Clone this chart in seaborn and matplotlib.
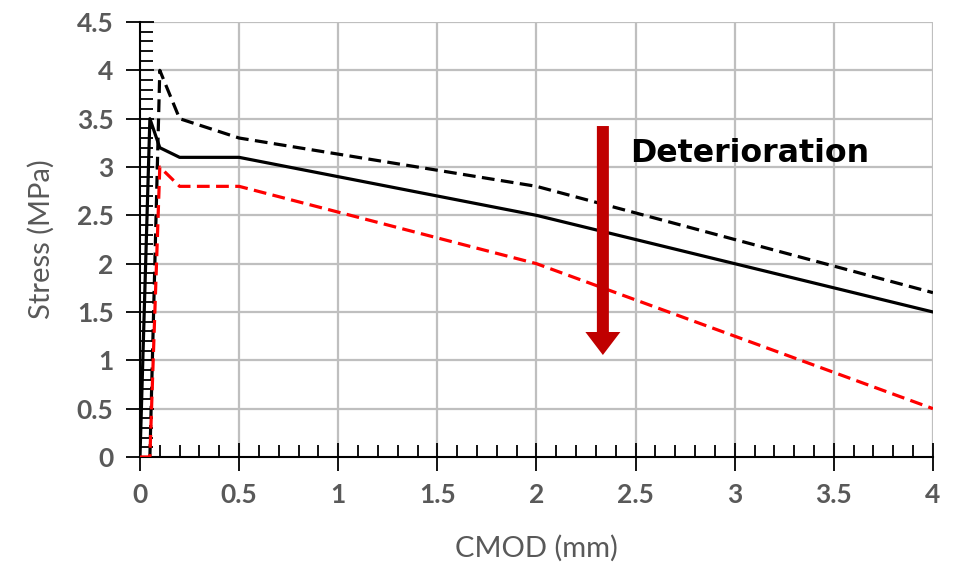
import matplotlib
matplotlib.use("Agg")
import matplotlib.pyplot as plt
from matplotlib.ticker import MultipleLocator
import seaborn as sns
import pandas as pd

# Stress-CMOD softening curves
cmod_ref = [0.0, 0.05, 0.1, 0.2, 0.5, 2.0, 4.0]
stress_ref = [0.0, 3.5, 3.2, 3.1, 3.1, 2.5, 1.5]

cmod_high = [0.05, 0.1, 0.2, 0.5, 2.0, 4.0]
stress_high = [0.0, 4.0, 3.5, 3.3, 2.8, 1.7]

cmod_low = [0.0, 0.05, 0.1, 0.2, 0.5, 2.0, 4.0]
stress_low = [0.0, 0.0, 3.0, 2.8, 2.8, 2.0, 0.5]

x_ticks = [0, 0.5, 1, 1.5, 2, 2.5, 3, 3.5, 4]
x_tick_labels = ["0", "0.5", "1", "1.5", "2", "2.5", "3", "3.5", "4"]
y_ticks = [0, 0.5, 1, 1.5, 2, 2.5, 3, 3.5, 4, 4.5]
y_tick_labels = ["0", "0.5", "1", "1.5", "2", "2.5", "3", "3.5", "4", "4.5"]

sns.set_theme(style="white")
plt.rcParams["font.family"] = ["Lato", "DejaVu Sans"]

fig = plt.figure(figsize=(9.64, 5.65), dpi=100)
ax = fig.add_axes([0.1452, 0.1912, 0.8226, 0.7698])

grid_col = "#bfbfbf"
for v in x_ticks[1:]:
    ax.axvline(v, color=grid_col, lw=1.6, zorder=0)
for v in y_ticks[1:]:
    ax.axhline(v, color=grid_col, lw=1.6, zorder=0)

df_ref = pd.DataFrame({"cmod": cmod_ref, "stress": stress_ref})
df_high = pd.DataFrame({"cmod": cmod_high, "stress": stress_high})
df_low = pd.DataFrame({"cmod": cmod_low, "stress": stress_low})

dash = (0, (4, 2))
sns.lineplot(data=df_high, x="cmod", y="stress", sort=False, ax=ax,
             color="black", lw=2.3, linestyle=dash, zorder=3)
sns.lineplot(data=df_ref, x="cmod", y="stress", sort=False, ax=ax,
             color="black", lw=2.3, zorder=4)
sns.lineplot(data=df_low, x="cmod", y="stress", sort=False, ax=ax,
             color="#ff0000", lw=2.3, linestyle=dash, zorder=5)

ax.set_xlim(0, 4)
ax.set_ylim(0, 4.5)
ax.set_xticks(x_ticks)
ax.set_xticklabels(x_tick_labels)
ax.set_yticks(y_ticks)
ax.set_yticklabels(y_tick_labels)
ax.xaxis.set_minor_locator(MultipleLocator(0.1))
ax.yaxis.set_minor_locator(MultipleLocator(0.1))

label_col = "#595959"
ax.tick_params(axis="both", which="both", bottom=True, left=True,
               top=False, right=False)
ax.tick_params(axis="both", which="major", direction="inout", length=20,
               width=1.3, color="black", labelsize=19, labelcolor=label_col,
               pad=9)
ax.tick_params(axis="both", which="minor", direction="in", length=9,
               width=1.3, color="black")
for lab in ax.get_xticklabels() + ax.get_yticklabels():
    lab.set_fontweight("bold")

for side in ["top", "right"]:
    ax.spines[side].set_visible(False)
for side in ["left", "bottom"]:
    ax.spines[side].set_color("black")
    ax.spines[side].set_linewidth(1.5)

ax.set_xlabel("CMOD (mm)", fontsize=21, color=label_col, labelpad=20)
ax.set_ylabel("Stress (MPa)", fontsize=21, color=label_col, labelpad=16)

# Deterioration arrow and label
ax.arrow(2.335, 3.424, 0, 1.055 - 3.424, width=0.0605, head_width=0.1765,
         head_length=0.238, length_includes_head=True, color="#c00000",
         lw=0, zorder=6)
ax.text(2.47, 3.05, "Deterioration", fontsize=22.8, fontweight="bold",
        color="black", family=["DejaVu Sans"],
        ha="left", va="baseline", zorder=7)

fig.savefig("out.png", dpi=100)
